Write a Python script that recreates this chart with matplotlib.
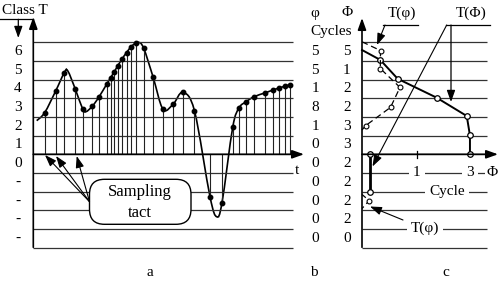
import numpy as np
import matplotlib.pyplot as plt
from matplotlib.patches import FancyBboxPatch, PathPatch
from matplotlib.path import Path

plt.rcParams['font.family'] = ['Liberation Serif', 'DejaVu Serif']

# panel a: sampled signal (t measured from the class axis, level in class bands)
sample_t = [10.7, 21.7, 30.3, 41.3, 48.7, 58.3, 65, 73, 77, 80.3, 84, 88, 92.7, 97.3,
            102.3, 109.7, 119, 129, 139.3, 148.7, 160.5, 176, 188, 198.7, 205, 212,
            220, 230.7, 239, 245.3, 251.3, 256]
sample_level = [2.23, 3.39, 4.37, 3.49, 2.42, 2.57, 3.07, 3.78, 4.10, 4.42, 4.75, 5.10,
                5.44, 5.76, 5.94, 5.67, 4.15, 2.41, 2.69, 3.31, 2.32, -2.27, -2.59,
                1.44, 2.48, 2.81, 3.08, 3.28, 3.44, 3.55, 3.65, 3.72]
# knots of the continuous signal (samples plus the visible extremes)
curve_t = [2.7, 10.7, 21.7, 30.3, 33.7, 41.3, 48.7, 52, 58.3, 65, 73, 80.3, 88, 97.3,
           104.3, 109.7, 119, 129, 139.3, 148.7, 160.5, 176, 182.7, 188, 198.7, 205,
           212, 220, 230.7, 239, 245.3, 251.3, 256]
curve_level = [1.80, 2.23, 3.39, 4.37, 4.47, 3.49, 2.42, 2.28, 2.57, 3.07, 3.78, 4.42,
               5.10, 5.76, 5.99, 5.67, 4.15, 2.41, 2.69, 3.31, 2.32, -2.27, -3.34, -2.59,
               1.44, 2.48, 2.81, 3.08, 3.28, 3.44, 3.55, 3.65, 3.72]

class_labels = ['6', '5', '4', '3', '2', '1', '0', '-', '-', '-', '-']
phi_labels = ['5', '5', '1', '8', '1', '0', '0', '0', '0', '0', '0']
Phi_labels = ['5', '1', '2', '2', '3', '3', '2', '2', '2', '2', '0']
band_levels = np.arange(5.5, -5, -1)
grid_levels = np.arange(6, -6, -1)

# panel c: phase curves
TPhi_x = [-1.05, -0.364, 0.289, 1.75, 2.88, 3.0, 3.0]
TPhi_y = [5.58, 5.05, 4.04, 3.03, 2.05, 1.01, 0.0]
TPhi_low_x = [-0.75, -0.75]
TPhi_low_y = [0.0, -2.0]
Tphi_x = [-1.05, -0.356, -0.364, 0.375, 0.019, -0.919, -1.05]
Tphi_y = [6.02, 5.55, 4.59, 3.58, 2.51, 1.53, 1.30]
Tphi_low_x = [-1.05, -0.78, -1.05]
Tphi_low_y = [-2.15, -2.48, -2.9]

W, H = 501, 281
fig = plt.figure(figsize=(W / 100, H / 100), dpi=100)
y0, unit = 154.3, 18.69
ylim = ((y0 - H) / unit, y0 / unit)

ax_a = fig.add_axes([0, 0, 1, 1])
ax_a.set_xlim(-34, W - 34)
ax_a.set_ylim(*ylim)
ax_a.axis('off')

ax_c = fig.add_axes([0, 0, 1, 1])
ax_c.set_xlim(-390 / 26.65, (W - 390) / 26.65)
ax_c.set_ylim(*ylim)
ax_c.axis('off')

# overlay in pixel space for axes arrows and labels
ax = fig.add_axes([0, 0, 1, 1])
ax.set_xlim(0, W)
ax.set_ylim(H, 0)
ax.axis('off')

gc = '#333333'
fs = 11

# grids
ax_a.hlines(grid_levels, -0.7, 259.3, color=gc, lw=0.9)
ax_c.hlines(grid_levels, -1.05, 3.64, color=gc, lw=0.9)

# signal
def smooth_path(xs, ys):
    p = np.column_stack([xs, ys])
    ext = np.vstack([p[0], p, p[-1]])
    verts = [p[0]]
    codes = [Path.MOVETO]
    for i in range(1, len(ext) - 2):
        c1 = ext[i] + (ext[i + 1] - ext[i - 1]) / 6
        c2 = ext[i + 1] - (ext[i + 2] - ext[i]) / 6
        verts += [c1, c2, ext[i + 1]]
        codes += [Path.CURVE4] * 3
    return Path(verts, codes)

ax_a.vlines(sample_t, 0, sample_level, color='#222222', lw=0.8)
ax_a.add_patch(PathPatch(smooth_path(curve_t, curve_level), fill=False, lw=1.2, color='k'))
ax_a.plot(sample_t, sample_level, 'o', ms=3.2, color='k')

for lv, s in zip(band_levels, class_labels):
    ax_a.text(-16, lv, s, fontsize=fs, ha='center', va='center')
for lv, s in zip(band_levels, phi_labels):
    ax_a.text(281, lv, s, fontsize=fs, ha='center', va='center')
for lv, s in zip(band_levels, Phi_labels):
    ax_a.text(312.7, lv, s, fontsize=fs, ha='center', va='center')

# phase curves
ax_c.plot(TPhi_x, TPhi_y, color='k', lw=1.4)
ax_c.plot(TPhi_x[1:], TPhi_y[1:], 'o', ms=4, mfc='white', mec='k', mew=0.9)
ax_c.plot(TPhi_low_x, TPhi_low_y, color='k', lw=2, marker='o', ms=4, mfc='white', mec='k', mew=0.9)
ax_c.plot(Tphi_x, Tphi_y, color='k', lw=0.9, dashes=(5, 3))
ax_c.plot(Tphi_x[1:-1], Tphi_y[1:-1], 'o', ms=3.5, mfc='white', mec='k', mew=0.8)
ax_c.plot(Tphi_low_x, Tphi_low_y, color='k', lw=0.9, dashes=(4, 3))
ax_c.plot(Tphi_low_x[1:2], Tphi_low_y[1:2], 'o', ms=3.5, mfc='white', mec='k', mew=0.8)


def arrow(p_from, p_to, lw=0.9, hl=0.7, hw=0.25):
    ax.annotate('', xy=p_to, xytext=p_from,
                arrowprops=dict(arrowstyle=f'-|>,head_length={hl},head_width={hw}',
                                lw=lw, color='k', shrinkA=0, shrinkB=0,
                                mutation_scale=10))

arrow((33.3, 247.3), (33.3, 17), lw=1.2)
arrow((33.3, y0), (304, y0), lw=1.2)
arrow((362, 247.3), (362, 18), lw=1.2)
arrow((362, y0), (498, y0), lw=1.2)
ax.plot([416.7, 416.7], [150.5, 157.5], color='k', lw=0.9)

ax.text(2, 10, 'Class T', fontsize=fs, ha='left', va='center')
ax.plot([0, 33], [19.3, 19.3], color='k', lw=0.9)
arrow((18.3, 19.3), (18.3, 38), lw=0.9)
ax.text(297, 170, 't', fontsize=fs, ha='center', va='center')

ax.text(315, 13, 'φ', fontsize=fs, ha='center', va='center')
ax.text(347, 13, 'Φ', fontsize=fs, ha='center', va='center')
ax.text(331, 32, 'Cycles', fontsize=fs, ha='center', va='center')

ax.text(402, 13, 'T(φ)', fontsize=fs, ha='center', va='center')
ax.plot([383, 418], [25, 25], color='k', lw=0.9)
arrow((385, 25), (377, 45), lw=0.8)
ax.text(471, 13, 'T(Φ)', fontsize=fs, ha='center', va='center')
ax.plot([446, 490], [25, 25], color='k', lw=0.9)
arrow((451, 25), (451, 102), lw=0.9)
arrow((446.7, 25), (372.5, 166.5), lw=0.8)

wb = dict(facecolor='white', edgecolor='none', pad=3)
ax.text(416.7, 172.7, '1', fontsize=fs, ha='center', va='center', bbox=wb)
ax.text(470, 172.7, '3', fontsize=fs, ha='center', va='center', bbox=wb)
ax.text(492, 172.7, 'Φ', fontsize=fs, ha='center', va='center',
        bbox=dict(facecolor='white', edgecolor='none', pad=1))
ax.text(447, 191.3, 'Cycle', fontsize=fs, ha='center', va='center', bbox=wb)
ax.text(425, 228.7, 'T(φ)', fontsize=fs, ha='center', va='center', bbox=wb)
arrow((403, 220), (370, 206.5), lw=0.8)

# "Sampling tact" callout
ax.add_patch(FancyBboxPatch((89.5, 179.3), 101.5, 45,
                            boxstyle='round,pad=0,rounding_size=15',
                            facecolor='white', edgecolor='k', lw=1.0, zorder=3))
ax.text(140, 192, 'Sampling', fontsize=12, ha='center', va='center', zorder=4)
ax.text(140, 213, 'tact', fontsize=12, ha='center', va='center', zorder=4)
for tip in [(45, 155), (56, 156), (76.7, 156)]:
    arrow((89.5, 201.7), tip, lw=0.8)

ax.text(150, 273, 'a', fontsize=fs, ha='center', va='center')
ax.text(314, 273, 'b', fontsize=fs, ha='center', va='center')
ax.text(446, 273, 'c', fontsize=fs, ha='center', va='center')

fig.savefig('out.png', dpi=100)
